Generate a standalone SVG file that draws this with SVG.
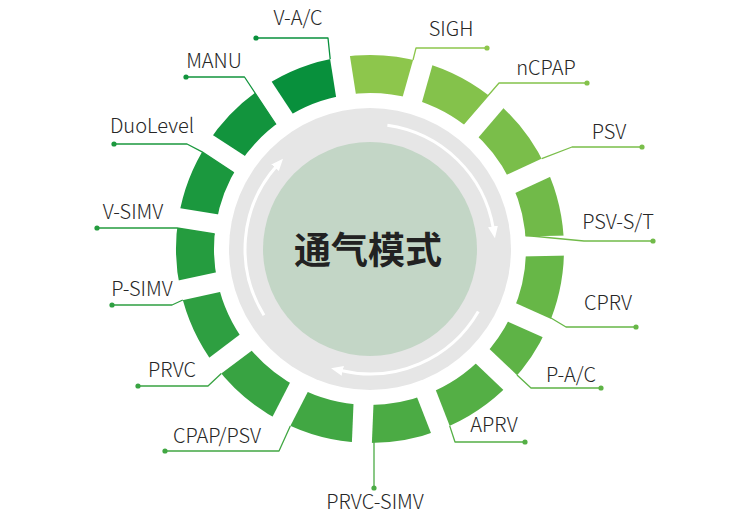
<svg xmlns="http://www.w3.org/2000/svg" width="750" height="520" viewBox="0 0 750 520">
<style>
.seg{fill:none;stroke-width:38}
.gap{stroke:#fff;stroke-width:20}
.lead{fill:none;stroke-width:1.3;stroke-linejoin:round}
.lbl{font-family:"Noto Sans CJK SC","Noto Sans",sans-serif;font-size:20px;font-weight:300;fill:#262626;text-anchor:middle}
.arw{fill:none;stroke:#fff;stroke-width:3;marker-end:url(#ah)}
</style>
<defs>
<marker id="ah" markerUnits="userSpaceOnUse" markerWidth="14" markerHeight="12" refX="2" refY="5" orient="auto"><path d="M0,0 L12,5 L0,10 Z" fill="#fff"/></marker>
</defs>
<rect width="750" height="520" fill="#fff"/>
<g id="hub">
<circle cx="370" cy="249" r="141" fill="#e6e6e6"/>
<circle cx="370" cy="249" r="107" fill="#c3d6c6"/>
<path class="arw" d="M264.0,315.2 A125,125 0 0 1 276.4,166.2"/>
<path class="arw" d="M387.4,125.2 A125,125 0 0 1 493.3,228.4"/>
<path class="arw" d="M478.3,311.5 A125,125 0 0 1 340.8,370.5"/>
<text x="368" y="264" font-family="'Noto Sans CJK SC',sans-serif" font-size="37" font-weight="bold" fill="#222" text-anchor="middle">通气模式</text>
</g>
<g id="sigh"><circle class="seg" r="175" pathLength="360" stroke-dasharray="24.7 335.3" transform="translate(370 249) rotate(261.1)" stroke="#8dc64c"/><text class="lbl" x="451" y="36">SIGH</text></g>
<g id="ncpap"><circle class="seg" r="175" pathLength="360" stroke-dasharray="24.7 335.3" transform="translate(370 249) rotate(-74.2)" stroke="#84c24b"/><text class="lbl" x="546" y="75">nCPAP</text></g>
<g id="psv"><circle class="seg" r="175" pathLength="360" stroke-dasharray="24.7 335.3" transform="translate(370 249) rotate(-49.5)" stroke="#7abe4a"/><text class="lbl" x="609" y="139">PSV</text></g>
<g id="psv-st"><circle class="seg" r="175" pathLength="360" stroke-dasharray="23.8 336.2" transform="translate(370 249) rotate(-24.8)" stroke="#71ba49"/><text class="lbl" x="618" y="229">PSV-S/T</text></g>
<g id="cprv"><circle class="seg" r="175" pathLength="360" stroke-dasharray="25.1 334.9" transform="translate(370 249) rotate(-1)" stroke="#67b747"/><text class="lbl" x="608" y="310">CPRV</text></g>
<g id="pac"><circle class="seg" r="175" pathLength="360" stroke-dasharray="19.5 340.5" transform="translate(370 249) rotate(24.1)" stroke="#5eb346"/><text class="lbl" x="571" y="382">P-A/C</text></g>
<g id="aprv"><circle class="seg" r="175" pathLength="360" stroke-dasharray="25.1 334.9" transform="translate(370 249) rotate(43.6)" stroke="#54af45"/><text class="lbl" x="494" y="432">APRV</text></g>
<g id="prvc-simv"><circle class="seg" r="175" pathLength="360" stroke-dasharray="23.7 336.3" transform="translate(370 249) rotate(68.7)" stroke="#4bab44"/><text class="lbl" x="375" y="509">PRVC-SIMV</text></g>
<g id="cpap-psv"><circle class="seg" r="175" pathLength="360" stroke-dasharray="24.8 335.2" transform="translate(370 249) rotate(92.4)" stroke="#41a743"/><text class="lbl" x="217" y="443">CPAP/PSV</text></g>
<g id="prvc"><circle class="seg" r="175" pathLength="360" stroke-dasharray="25.8 334.2" transform="translate(370 249) rotate(117.2)" stroke="#38a342"/><text class="lbl" x="172" y="377">PRVC</text></g>
<g id="p-simv"><circle class="seg" r="175" pathLength="360" stroke-dasharray="24.7 335.3" transform="translate(370 249) rotate(143)" stroke="#2e9f41"/><text class="lbl" x="142" y="296">P-SIMV</text></g>
<g id="v-simv"><circle class="seg" r="175" pathLength="360" stroke-dasharray="21.5 338.5" transform="translate(370 249) rotate(167.7)" stroke="#259c3f"/><text class="lbl" x="133" y="219">V-SIMV</text></g>
<g id="duolevel"><circle class="seg" r="175" pathLength="360" stroke-dasharray="23.8 336.2" transform="translate(370 249) rotate(189.2)" stroke="#1b983e"/><text class="lbl" x="152" y="133">DuoLevel</text></g>
<g id="manu"><circle class="seg" r="175" pathLength="360" stroke-dasharray="23.6 336.4" transform="translate(370 249) rotate(213)" stroke="#12943d"/><text class="lbl" x="214" y="68">MANU</text></g>
<g id="vac"><circle class="seg" r="175" pathLength="360" stroke-dasharray="24.5 335.5" transform="translate(370 249) rotate(236.6)" stroke="#08903c"/><text class="lbl" x="298" y="25">V-A/C</text></g>
<g id="gaps" transform="translate(370 249)">
<line class="gap" x1="0" y1="-150" x2="0" y2="-200" transform="rotate(351.1)"/>
<line class="gap" x1="0" y1="-150" x2="0" y2="-200" transform="rotate(15.8)"/>
<line class="gap" x1="0" y1="-150" x2="0" y2="-200" transform="rotate(40.5)"/>
<line class="gap" x1="0" y1="-150" x2="0" y2="-200" transform="rotate(65.2)"/>
<line class="gap" x1="0" y1="-150" x2="0" y2="-200" transform="rotate(89)"/>
<line class="gap" x1="0" y1="-150" x2="0" y2="-200" transform="rotate(114.1)"/>
<line class="gap" x1="0" y1="-150" x2="0" y2="-200" transform="rotate(133.6)"/>
<line class="gap" x1="0" y1="-150" x2="0" y2="-200" transform="rotate(158.7)"/>
<line class="gap" x1="0" y1="-150" x2="0" y2="-200" transform="rotate(182.4)"/>
<line class="gap" x1="0" y1="-150" x2="0" y2="-200" transform="rotate(207.2)"/>
<line class="gap" x1="0" y1="-150" x2="0" y2="-200" transform="rotate(233)"/>
<line class="gap" x1="0" y1="-150" x2="0" y2="-200" transform="rotate(257.7)"/>
<line class="gap" x1="0" y1="-150" x2="0" y2="-200" transform="rotate(279.2)"/>
<line class="gap" x1="0" y1="-150" x2="0" y2="-200" transform="rotate(303)"/>
<line class="gap" x1="0" y1="-150" x2="0" y2="-200" transform="rotate(326.6)"/>
</g>
<g id="connectors">
<polyline class="lead" stroke="#08903c" points="256,38 328,38 330.2,59.1"/><circle cx="256" cy="38" r="2.6" fill="#08903c"/>
<polyline class="lead" stroke="#8dc64c" points="487,48 416,48 413,60"/><circle cx="487" cy="48" r="2.6" fill="#8dc64c"/>
<polyline class="lead" stroke="#84c24b" points="587,83 499,83 463.5,124"/><circle cx="587" cy="83" r="2.6" fill="#84c24b"/>
<polyline class="lead" stroke="#7abe4a" points="642,147 572,147 541.7,158.7"/><circle cx="642" cy="147" r="2.6" fill="#7abe4a"/>
<polyline class="lead" stroke="#71ba49" points="653,241 584,241 526,235.5"/><circle cx="653" cy="241" r="2.6" fill="#71ba49"/>
<polyline class="lead" stroke="#67b747" points="636,327 566,327 551,318"/><circle cx="636" cy="327" r="2.6" fill="#67b747"/>
<polyline class="lead" stroke="#5eb346" points="601,388 531,388 517,375"/><circle cx="601" cy="388" r="2.6" fill="#5eb346"/>
<polyline class="lead" stroke="#54af45" points="525,442 455,442 449.7,425.9"/><circle cx="525" cy="442" r="2.6" fill="#54af45"/>
<polyline class="lead" stroke="#4bab44" points="374,488 374,432"/><circle cx="374" cy="488" r="2.6" fill="#4bab44"/>
<polyline class="lead" stroke="#41a743" points="165,451 279,451 290.3,425.9"/><circle cx="165" cy="451" r="2.6" fill="#41a743"/>
<polyline class="lead" stroke="#38a342" points="138,386 208,386 221.3,373.6"/><circle cx="138" cy="386" r="2.6" fill="#38a342"/>
<polyline class="lead" stroke="#2e9f41" points="112,305 172,305 182.8,300"/><circle cx="112" cy="305" r="2.6" fill="#2e9f41"/>
<polyline class="lead" stroke="#259c3f" points="97,228 177,228 214.7,234"/><circle cx="97" cy="228" r="2.6" fill="#259c3f"/>
<polyline class="lead" stroke="#1b983e" points="114,144 187,144 202.1,151.9 233.9,172.7"/><circle cx="114" cy="144" r="2.6" fill="#1b983e"/>
<polyline class="lead" stroke="#12943d" points="186,77 244.5,77 276,124.5"/><circle cx="186" cy="77" r="2.6" fill="#12943d"/>
</g>
</svg>
